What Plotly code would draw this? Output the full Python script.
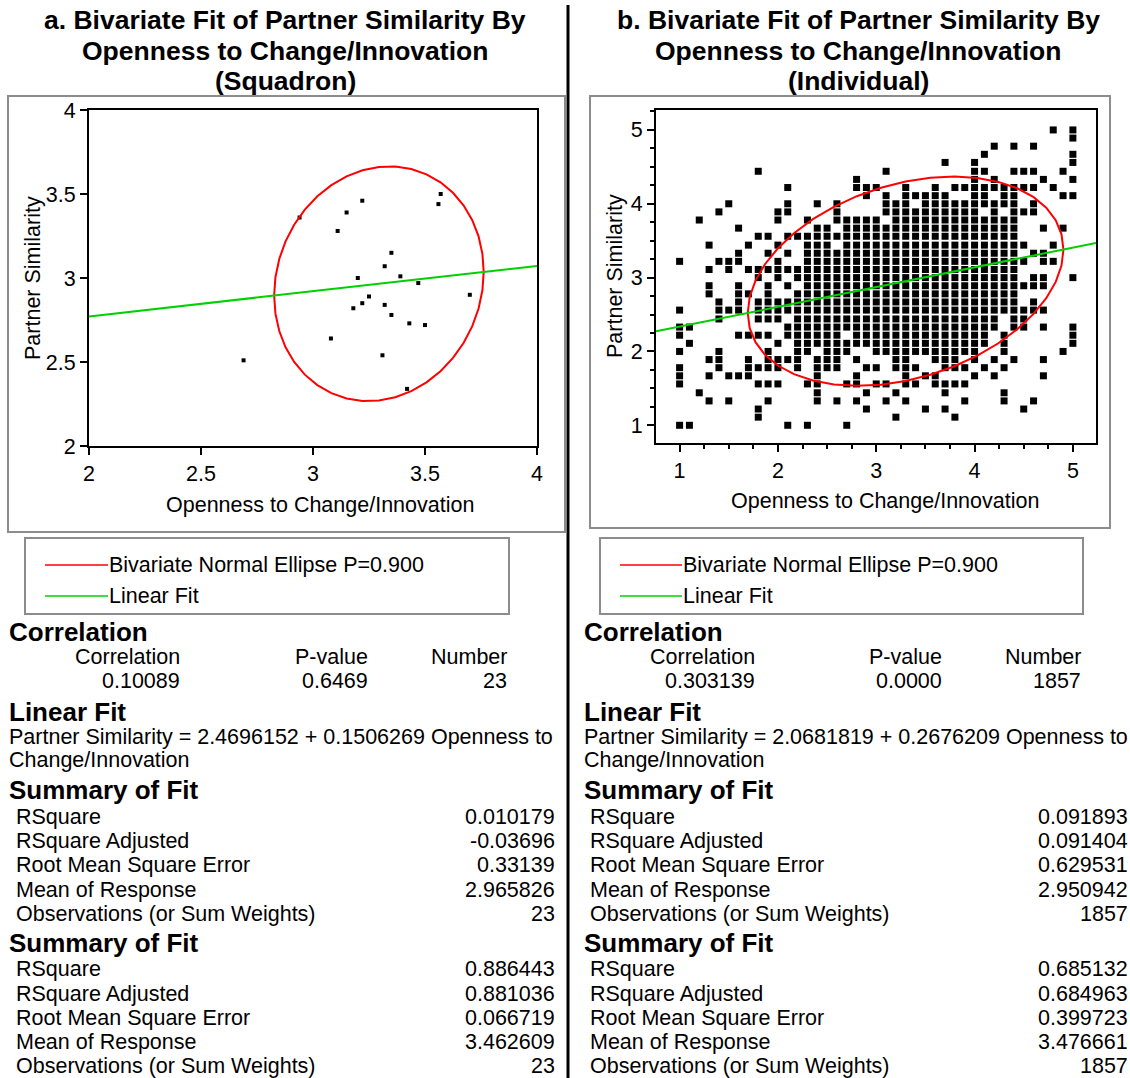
import math
import plotly.graph_objects as go

W, H = 1130, 1078
FONT = "Liberation Sans, Arial, sans-serif"

# ---------------- data: squadron level (panel a) ----------------
openness_a = [2.69, 2.94, 3.08, 3.11, 3.15, 3.18, 3.20, 3.22, 3.22, 3.25, 3.31, 3.32,
              3.32, 3.35, 3.35, 3.39, 3.42, 3.43, 3.47, 3.50, 3.56, 3.57, 3.70]
similarity_a = [2.51, 3.36, 2.64, 3.28, 3.39, 2.82, 3.00, 3.46, 2.85, 2.89, 2.54, 3.07,
                2.84, 3.15, 2.78, 3.01, 2.34, 2.73, 2.97, 2.72, 3.44, 3.50, 2.90]

# ---------------- data: individual level (panel b) ----------------
# distinct (openness, similarity) combinations, grouped by openness score
openness_levels_b = [1.0, 1.1, 1.2, 1.3, 1.4, 1.5, 1.6, 1.7, 1.8, 1.9,
                     2.0, 2.1, 2.2, 2.3, 2.4, 2.5, 2.6, 2.7, 2.8, 2.9,
                     3.0, 3.1, 3.2, 3.3, 3.4, 3.5, 3.6, 3.7, 3.8, 3.9,
                     4.0, 4.1, 4.2, 4.3, 4.4, 4.5, 4.6, 4.7, 4.8, 4.9, 5.0]
similarity_by_level_b = [
    [3.22, 2.56, 2.33, 2.22, 2.00, 1.78, 1.67, 1.56, 1.00],
    [2.33, 2.11, 1.00],
    [3.78, 1.44],
    [3.44, 3.11, 2.89, 2.78, 1.89, 1.67, 1.33],
    [3.89, 3.22, 2.67, 2.56, 2.44, 2.00, 1.89, 1.78],
    [4.00, 3.22, 3.11, 2.56, 1.67, 1.33],
    [3.67, 3.33, 3.22, 2.89, 2.78, 2.67, 2.56, 2.22, 1.67],
    [3.44, 3.11, 2.78, 2.22, 1.89, 1.78, 1.67],
    [4.44, 3.56, 3.11, 3.00, 2.67, 2.56, 2.44, 2.22, 1.78, 1.56, 1.22, 1.11],
    [3.56, 3.33, 3.11, 2.89, 2.78, 2.67, 2.56, 2.44, 2.22, 2.00, 1.89, 1.78, 1.56, 1.33],
    [3.89, 3.78, 3.44, 3.22, 3.11, 3.00, 2.67, 2.56, 2.44, 2.11, 1.89, 1.78, 1.56],
    [4.22, 4.00, 3.89, 3.56, 3.33, 3.11, 2.89, 2.67, 2.56, 2.33, 2.22, 1.89, 1.00],
    [3.56, 3.11, 3.00, 2.78, 2.67, 2.56, 2.44, 2.33, 2.22, 2.11, 2.00, 1.89, 1.78],
    [3.78, 3.56, 3.44, 3.33, 3.22, 3.11, 3.00, 2.89, 2.78, 2.67, 2.56, 2.44, 2.33, 2.22,
     2.11, 2.00, 1.56, 1.00],
    [4.00, 3.67, 3.56, 3.44, 3.33, 3.22, 3.11, 3.00, 2.89, 2.78, 2.67, 2.56, 2.44, 2.33,
     2.22, 2.11, 1.89, 1.78, 1.67, 1.56, 1.44, 1.33],
    [3.67, 3.56, 3.44, 3.33, 3.22, 3.11, 3.00, 2.89, 2.78, 2.67, 2.56, 2.44, 2.33, 2.22,
     2.11, 2.00, 1.89, 1.78],
    [4.00, 3.89, 3.78, 3.56, 3.33, 3.22, 3.11, 3.00, 2.89, 2.78, 2.67, 2.56, 2.44, 2.33,
     2.22, 2.11, 2.00, 1.89, 1.78, 1.33],
    [3.78, 3.67, 3.56, 3.44, 3.33, 3.22, 3.11, 3.00, 2.89, 2.78, 2.67, 2.56, 2.44, 2.33,
     2.11, 2.00, 1.56, 1.00],
    [4.33, 4.22, 3.78, 3.67, 3.56, 3.44, 3.33, 3.22, 3.11, 3.00, 2.89, 2.78, 2.67, 2.56,
     2.44, 2.33, 2.22, 2.11, 1.89, 1.67, 1.56, 1.33],
    [4.22, 4.11, 3.78, 3.67, 3.56, 3.44, 3.33, 3.22, 3.11, 3.00, 2.89, 2.78, 2.67, 2.56,
     2.44, 2.33, 2.22, 2.11, 1.78, 1.44, 1.22],
    [4.22, 3.78, 3.67, 3.56, 3.44, 3.33, 3.22, 3.11, 3.00, 2.89, 2.78, 2.67, 2.56, 2.44,
     2.33, 2.22, 2.11, 2.00, 1.78, 1.56],
    [4.44, 4.11, 4.00, 3.89, 3.67, 3.56, 3.44, 3.33, 3.22, 3.11, 3.00, 2.89, 2.78, 2.67,
     2.56, 2.44, 2.33, 2.22, 2.11, 2.00, 1.56, 1.33],
    [4.00, 3.89, 3.78, 3.67, 3.56, 3.44, 3.33, 3.22, 3.11, 3.00, 2.89, 2.78, 2.67, 2.56,
     2.44, 2.33, 2.22, 2.11, 2.00, 1.89, 1.78, 1.44, 1.11],
    [4.22, 4.11, 4.00, 3.89, 3.78, 3.67, 3.56, 3.44, 3.33, 3.22, 3.11, 3.00, 2.89, 2.78,
     2.67, 2.56, 2.44, 2.33, 2.22, 2.11, 2.00, 1.89, 1.78, 1.67, 1.56, 1.33],
    [4.11, 3.89, 3.78, 3.67, 3.56, 3.44, 3.33, 3.22, 3.11, 3.00, 2.89, 2.78, 2.67, 2.56,
     2.44, 2.33, 2.22, 2.11, 2.00, 1.78, 1.56],
    [4.11, 4.00, 3.89, 3.78, 3.67, 3.56, 3.44, 3.33, 3.22, 3.11, 3.00, 2.89, 2.78, 2.67,
     2.56, 2.44, 2.33, 2.22, 2.11, 2.00, 1.67, 1.22],
    [4.22, 4.11, 4.00, 3.89, 3.78, 3.67, 3.56, 3.44, 3.33, 3.22, 3.11, 3.00, 2.89, 2.78,
     2.67, 2.56, 2.44, 2.33, 2.22, 2.11, 2.00, 1.89, 1.67, 1.56],
    [4.56, 4.11, 4.00, 3.89, 3.78, 3.67, 3.56, 3.44, 3.33, 3.22, 3.11, 3.00, 2.89, 2.78,
     2.67, 2.56, 2.44, 2.33, 2.22, 2.11, 2.00, 1.89, 1.78, 1.56, 1.44, 1.22],
    [4.22, 4.00, 3.89, 3.78, 3.67, 3.56, 3.44, 3.33, 3.22, 3.11, 3.00, 2.89, 2.78, 2.67,
     2.56, 2.44, 2.33, 2.22, 2.11, 2.00, 1.89, 1.78, 1.56, 1.11],
    [4.22, 4.00, 3.89, 3.78, 3.67, 3.56, 3.44, 3.33, 3.22, 3.11, 3.00, 2.89, 2.78, 2.67,
     2.56, 2.44, 2.33, 2.22, 2.11, 2.00, 1.78, 1.56, 1.33],
    [4.56, 4.44, 4.33, 4.22, 4.11, 4.00, 3.89, 3.78, 3.67, 3.56, 3.44, 3.33, 3.22, 3.11,
     3.00, 2.89, 2.78, 2.67, 2.56, 2.44, 2.33, 2.22, 2.11, 2.00, 1.89, 1.67],
    [4.67, 4.44, 4.22, 4.11, 4.00, 3.78, 3.67, 3.56, 3.44, 3.33, 3.22, 3.11, 3.00, 2.89,
     2.78, 2.67, 2.56, 2.44, 2.33, 2.22, 2.11, 1.78],
    [4.78, 4.33, 4.22, 4.00, 3.89, 3.78, 3.67, 3.56, 3.44, 3.33, 3.22, 3.11, 3.00, 2.89,
     2.78, 2.67, 2.56, 2.44, 2.33, 1.89, 1.67],
    [4.22, 4.11, 4.00, 3.78, 3.67, 3.56, 3.44, 3.33, 3.22, 3.11, 3.00, 2.89, 2.78, 2.67,
     2.56, 2.22, 2.11, 2.00, 1.78, 1.44, 1.33],
    [4.78, 4.44, 4.22, 4.11, 4.00, 3.89, 3.78, 3.67, 3.56, 3.44, 3.33, 3.22, 3.11, 3.00,
     2.89, 2.78, 2.67, 2.56, 2.44, 2.33, 1.89],
    [4.44, 4.22, 3.89, 3.44, 3.22, 2.89, 2.56, 2.44, 2.33, 1.22],
    [4.78, 4.44, 4.22, 4.00, 3.89, 3.33, 3.00, 2.89, 2.67, 2.56, 1.33],
    [4.33, 3.67, 3.33, 3.22, 3.00, 2.89, 2.56, 2.33, 1.89, 1.67],
    [5.00, 4.22, 3.44, 3.22],
    [4.44, 4.11, 3.67, 2.00],
    [5.00, 4.89, 4.67, 4.56, 4.33, 4.11, 3.00, 2.33, 2.22, 2.11],
]

# ---------------- report tables ----------------
titles_a = ["a. Bivariate Fit of Partner Similarity By", "Openness to Change/Innovation", "(Squadron)"]
titles_b = ["b. Bivariate Fit of Partner Similarity By", "Openness to Change/Innovation", "(Individual)"]
x_title = "Openness to Change/Innovation"
y_title = "Partner Similarity"
ellipse_p = "0.900"
legend_labels = ["Bivariate Normal Ellipse P=" + ellipse_p, "Linear Fit"]

corr_headers = ["Correlation", "P-value", "Number"]
corr_a = ["0.10089", "0.6469", "23"]
corr_b = ["0.303139", "0.0000", "1857"]
fit_a = ["2.4696152", "0.1506269"]     # intercept, slope
fit_b = ["2.0681819", "0.2676209"]
summary_labels = ["RSquare", "RSquare Adjusted", "Root Mean Square Error",
                  "Mean of Response", "Observations (or Sum Weights)"]
summary1_a = ["0.010179", "-0.03696", "0.33139", "2.965826", "23"]
summary2_a = ["0.886443", "0.881036", "0.066719", "3.462609", "23"]
summary1_b = ["0.091893", "0.091404", "0.629531", "2.950942", "1857"]
summary2_b = ["0.685132", "0.684963", "0.399723", "3.476661", "1857"]

RED = "#ff0000"
GREEN = "#00d000"
FRAME_GRAY = "#8c8c8c"
BODY = 21.5
HEAD = 26
TITLE = 26.5


def px_x(v):
    return v / W


def px_y(v):
    return 1 - v / H


def density_ellipse(corr, fit, summary, p):
    """Bivariate normal contour from the reported fit statistics."""
    r = float(corr[0])
    b0, b1 = float(fit[0]), float(fit[1])
    r2, rmse, my, n = (float(summary[0]), float(summary[2]),
                       float(summary[3]), float(summary[4]))
    mx = (my - b0) / b1
    sy = math.sqrt(rmse ** 2 * (n - 2) / ((n - 1) * (1 - r2)))
    sx = r * sy / b1
    c = math.sqrt(-2 * math.log(1 - float(p)))
    xs, ys = [], []
    steps = 40
    for i in range(steps + 1):
        t = 2 * math.pi * i / steps
        xs.append(mx + c * sx * math.cos(t))
        ys.append(my + c * sy * (r * math.cos(t) + math.sqrt(1 - r * r) * math.sin(t)))
    return xs, ys


fig = go.Figure()

# ---------------- panel a ----------------
range_a_x = [2, 4]
range_a_y = [2, 4]
fig.add_trace(go.Scatter(x=openness_a, y=similarity_a, mode="markers",
                         marker=dict(symbol="square", size=4, color="black"),
                         xaxis="x", yaxis="y", showlegend=False))
ex, ey = density_ellipse(corr_a, fit_a, summary1_a, ellipse_p)
fig.add_trace(go.Scatter(x=ex, y=ey, mode="lines", line=dict(color=RED, width=2),
                         xaxis="x", yaxis="y", showlegend=False))
fx = range_a_x
fy = [float(fit_a[0]) + float(fit_a[1]) * v for v in fx]
fig.add_trace(go.Scatter(x=fx, y=fy, mode="lines", line=dict(color=GREEN, width=2),
                         xaxis="x", yaxis="y", showlegend=False))

# ---------------- panel b ----------------
range_b_x = [0.76, 5.235]
range_b_y = [0.76, 5.27]
xb, yb = [], []
for lvl, ys in zip(openness_levels_b, similarity_by_level_b):
    for v in ys:
        xb.append(lvl)
        yb.append(v)
fig.add_trace(go.Scatter(x=xb, y=yb, mode="markers",
                         marker=dict(symbol="square", size=7, color="black"),
                         xaxis="x2", yaxis="y2", showlegend=False))
ex, ey = density_ellipse(corr_b, fit_b, summary1_b, ellipse_p)
fig.add_trace(go.Scatter(x=ex, y=ey, mode="lines", line=dict(color=RED, width=2),
                         xaxis="x2", yaxis="y2", showlegend=False))
fx = range_b_x
fy = [float(fit_b[0]) + float(fit_b[1]) * v for v in fx]
fig.add_trace(go.Scatter(x=fx, y=fy, mode="lines", line=dict(color=GREEN, width=2),
                         xaxis="x2", yaxis="y2", showlegend=False))

axis_common = dict(showline=True, linecolor="black", linewidth=2, mirror=True,
                   showgrid=False, zeroline=False, ticks="outside", ticklen=7,
                   tickwidth=1.5, tickcolor="black",
                   tickfont=dict(family=FONT, size=BODY, color="black"))

fig.update_layout(
    width=W, height=H,
    margin=dict(l=0, r=0, t=0, b=0, pad=0, autoexpand=False),
    paper_bgcolor="white", plot_bgcolor="white",
    xaxis=dict(domain=[px_x(89), px_x(537)], range=range_a_x, anchor="y",
               tickmode="array", tickvals=[2, 2.5, 3, 3.5, 4],
               ticktext=["2", "2.5", "3", "3.5", "4"], **axis_common),
    yaxis=dict(domain=[px_y(446), px_y(110)], range=range_a_y, anchor="x",
               tickmode="array", tickvals=[2, 2.5, 3, 3.5, 4],
               ticktext=["2", "2.5", "3", "3.5", "4"], **axis_common),
    xaxis2=dict(domain=[px_x(656), px_x(1096)], range=range_b_x, anchor="y2",
                tickmode="linear", tick0=1, dtick=1,
                minor=dict(dtick=0.25, tick0=0, ticklen=4, ticks="outside",
                           tickcolor="black", tickwidth=1.5),
                **axis_common),
    yaxis2=dict(domain=[px_y(443), px_y(110)], range=range_b_y, anchor="x2",
                tickmode="linear", tick0=1, dtick=1,
                minor=dict(dtick=0.25, tick0=0, ticklen=4, ticks="outside",
                           tickcolor="black", tickwidth=1.5),
                **axis_common),
)

shapes = []


def rect(x0, y0, x1, y1, color, width):
    shapes.append(dict(type="rect", xref="paper", yref="paper",
                       x0=px_x(x0), x1=px_x(x1), y0=px_y(y1), y1=px_y(y0),
                       line=dict(color=color, width=width), fillcolor="rgba(0,0,0,0)",
                       layer="below"))


def hline(x0, x1, y, color, width):
    shapes.append(dict(type="line", xref="paper", yref="paper",
                       x0=px_x(x0), x1=px_x(x1), y0=px_y(y), y1=px_y(y),
                       line=dict(color=color, width=width)))


# plot frames, legend boxes, column separator
rect(8, 96, 565, 532, FRAME_GRAY, 2)
rect(590, 96, 1110, 528, FRAME_GRAY, 2)
rect(25, 538, 509, 614, FRAME_GRAY, 2)
rect(600, 538, 1083, 614, FRAME_GRAY, 2)
shapes.append(dict(type="line", xref="paper", yref="paper",
                   x0=px_x(568), x1=px_x(568), y0=px_y(5), y1=px_y(1078),
                   line=dict(color="black", width=3)))
hline(45, 108, 565, RED, 1.5)
hline(45, 108, 596, GREEN, 1.5)
hline(620, 682, 565, RED, 1.5)
hline(620, 682, 596, GREEN, 1.5)
fig.update_layout(shapes=shapes)


def text(x, y, s, size=BODY, bold=False, anchor="left", angle=0):
    fig.add_annotation(x=px_x(x), y=px_y(y), xref="paper", yref="paper",
                       text="<b>" + s + "</b>" if bold else s, showarrow=False,
                       xanchor=anchor, yanchor="middle", textangle=angle,
                       borderpad=0,
                       font=dict(family=FONT, size=size, color="black"))


def panel_text(cx, titles, left, label_x, value_x, col_x, corr, fit, s1, s2,
               plot_cx, ytitle_x, ytitle_y, xtitle_y, legend_x):
    for s, y in zip(titles, [20, 51, 81]):
        text(cx, y, s, size=TITLE, bold=True, anchor="center")
    text(plot_cx, xtitle_y, x_title, anchor="center")
    text(ytitle_x, ytitle_y, y_title, anchor="center", angle=-90)
    text(legend_x, 565, legend_labels[0])
    text(legend_x, 596, legend_labels[1])
    text(left, 632, "Correlation", size=HEAD, bold=True)
    for hx, h, v in zip(col_x, corr_headers, corr):
        text(hx, 657, h, anchor="right")
        text(hx, 681, v, anchor="right")
    text(left, 712, "Linear Fit", size=HEAD, bold=True)
    text(left, 737, "Partner Similarity = " + fit[0] + " + " + fit[1] + " Openness to")
    text(left, 760, "Change/Innovation")
    for head_y, rows_y, vals in [(790, [817, 841, 865, 890, 914], s1),
                                 (943, [969, 994, 1018, 1042, 1066], s2)]:
        text(left, head_y, "Summary of Fit", size=HEAD, bold=True)
        for ry, lab, v in zip(rows_y, summary_labels, vals):
            text(label_x, ry, lab)
            text(value_x, ry, v, anchor="right")


panel_text(285, titles_a, 8, 15, 556, [181, 369, 508], corr_a, fit_a,
           summary1_a, summary2_a, 320, 33, 278, 505, 108)
panel_text(858, titles_b, 583, 589, 1129, [756, 943, 1082], corr_b, fit_b,
           summary1_b, summary2_b, 885, 615, 276, 501, 682)

fig.write_html("out.html")
